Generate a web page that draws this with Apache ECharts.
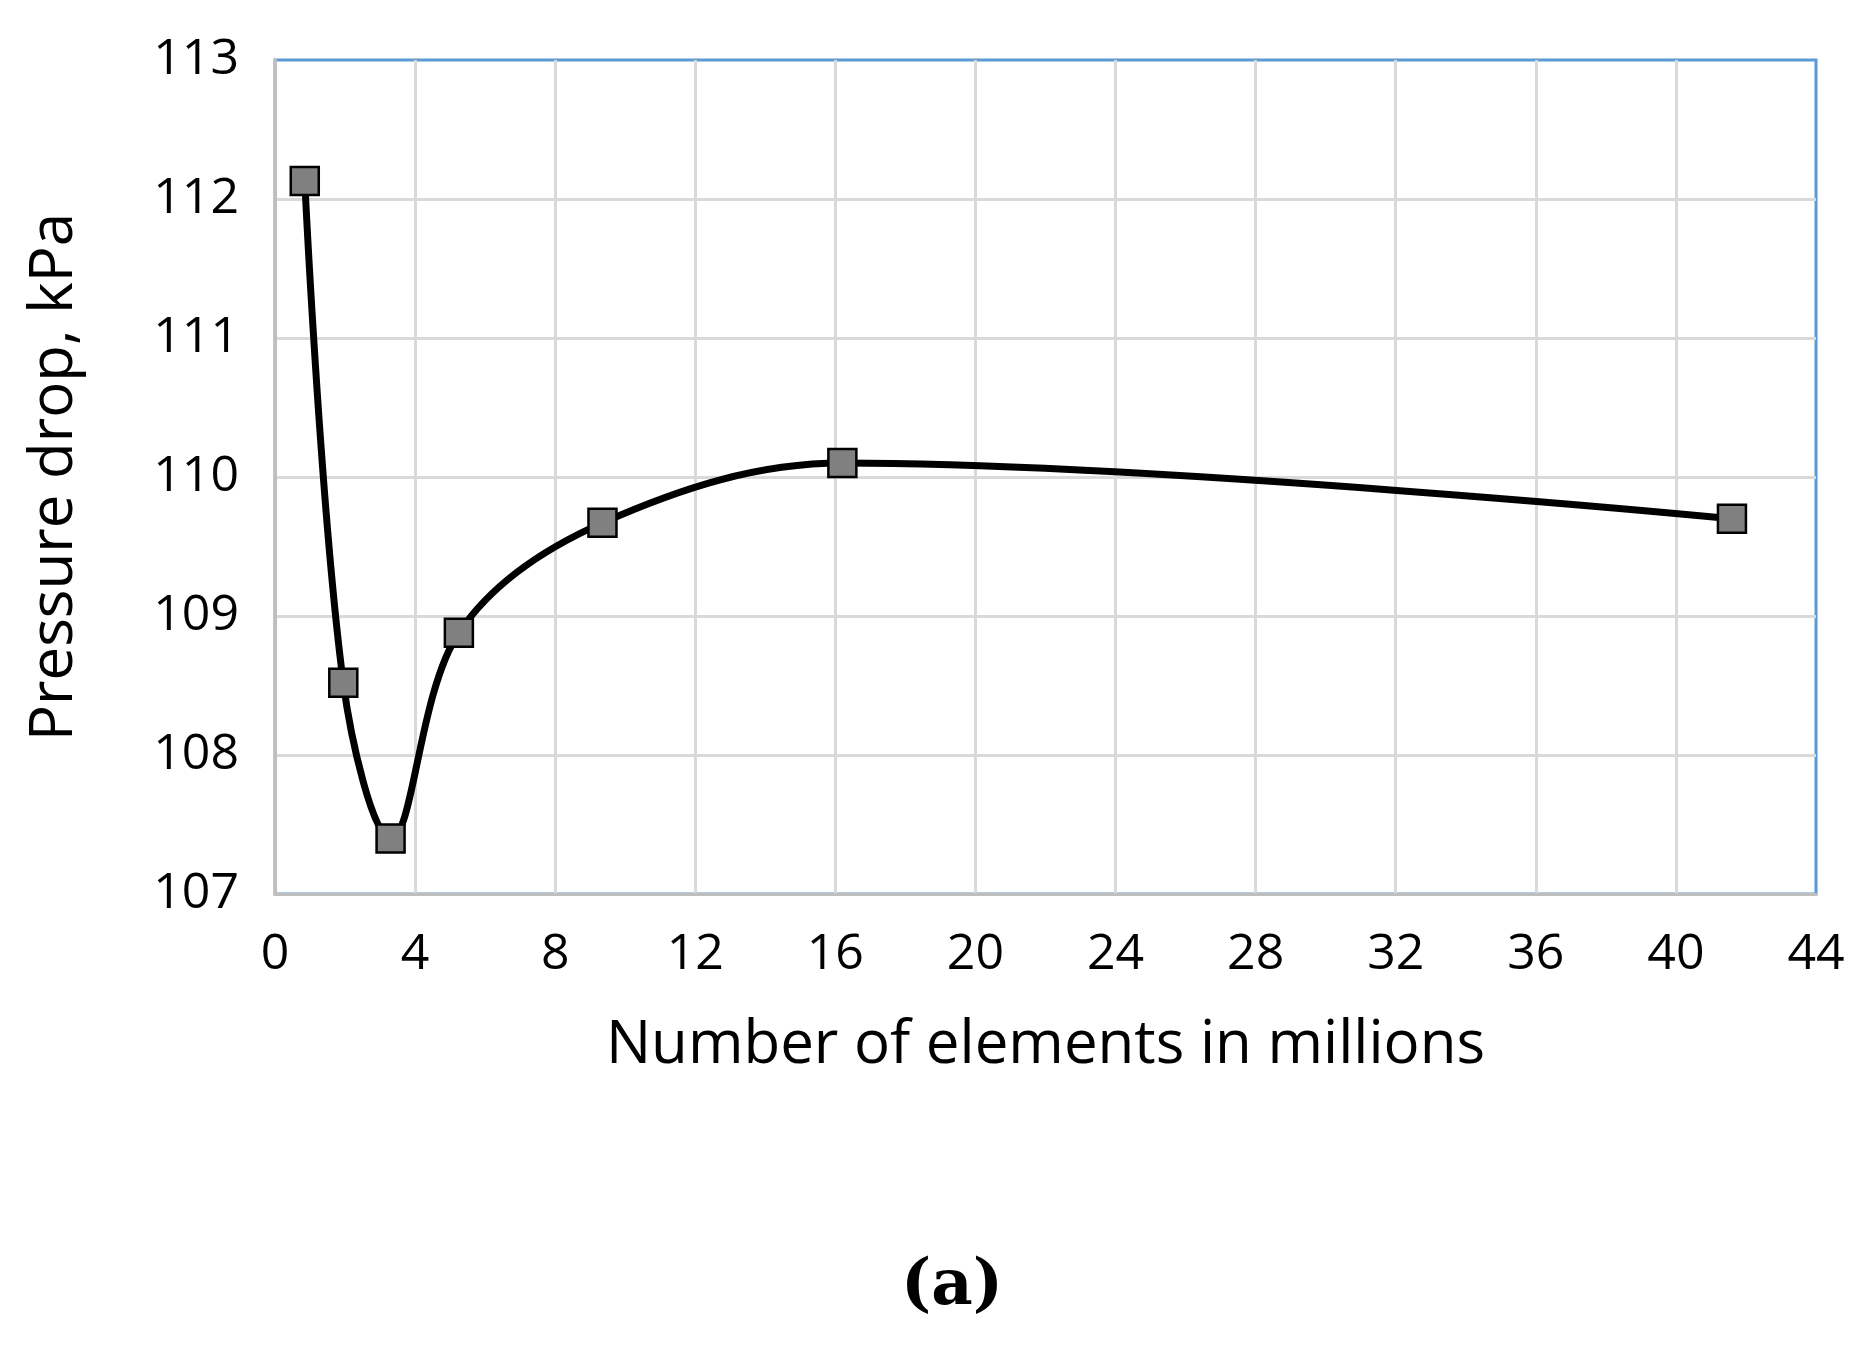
<!DOCTYPE html><html><head><meta charset="utf-8"><script src="https://cdn.jsdelivr.net/npm/echarts@6/dist/echarts.min.js"></script>
<style>html,body{margin:0;background:#fff}#c{width:1872px;height:1355px}</style></head><body><div id="c"></div><script>
const xVals=[0.85,1.95,3.3,5.25,9.35,16.2,41.6];
const yVals=[112.13,108.52,107.4,108.88,109.67,110.1,109.7];
const chart=echarts.init(document.getElementById('c'));
const f='"Open Sans", sans-serif';
chart.setOption({animation:false,
grid:{left:275,right:56,top:60,bottom:461,show:true,borderColor:'#5b9bd5',borderWidth:3},
title:{text:'(a)',left:947,top:1250,textAlign:'center',textStyle:{fontFamily:'"DejaVu Serif", serif',fontSize:64,fontWeight:'bold',color:'#000'}},
xAxis:{type:'value',min:0,max:44,interval:4,name:'Number of elements in millions',nameLocation:'middle',nameGap:122,
 nameTextStyle:{fontFamily:f,fontSize:60,color:'#000'},
 axisLine:{lineStyle:{color:'#bfbfbf',width:3}},axisTick:{show:false},
 axisLabel:{fontFamily:f,fontSize:50,color:'#000',margin:36},
 splitLine:{showMaxLine:false,lineStyle:{color:'#d9d9d9',width:3}}},
yAxis:{type:'value',min:107,max:113,interval:1,name:'Pressure drop, kPa',nameLocation:'middle',nameGap:190,
 nameTextStyle:{fontFamily:f,fontSize:60,color:'#000'},
 axisLine:{show:true,lineStyle:{color:'#bfbfbf',width:3}},axisTick:{show:false},
 axisLabel:{fontFamily:f,fontSize:50,color:'#000',margin:36},
 splitLine:{showMaxLine:false,lineStyle:{color:'#d9d9d9',width:3}}},
series:[{type:'line',data:xVals.map((x,i)=>[x,yVals[i]]),smooth:0.35,
 lineStyle:{color:'#000',width:7},symbol:'rect',symbolSize:28,
 itemStyle:{color:'#808080',borderColor:'#000',borderWidth:2.5}}]});
</script></body></html>
